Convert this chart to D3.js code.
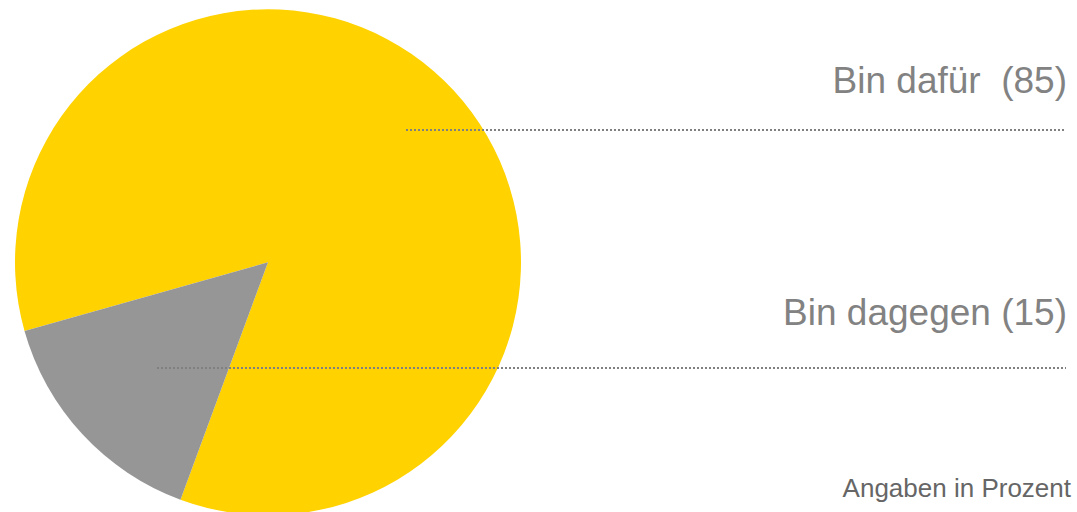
<!DOCTYPE html>
<html><head><meta charset="utf-8">
<script src="https://cdn.jsdelivr.net/npm/d3@7"></script>
<style>html,body{margin:0;padding:0;background:#fff;}svg{display:block;}</style>
</head><body>
<script>
const categories = ["Bin dafür", "Bin dagegen"];
const values = [85, 15];
const labels = ["Bin dafür  (85)", "Bin dagegen (15)"];
const colors = ["#FFD200", "#969696"];
const note = "Angaben in Prozent";

const W = 1077, H = 512;
const cx = 268, cy = 262.3, R = 253;
const startDeg = -105.76;
const labelLineY = [130, 368];
const labelLineX0 = [406, 157];
const labelBaseY = [93, 325];
const FONT = "'Liberation Sans', Arial, Helvetica, sans-serif";

const svg = d3.select("body").append("svg").attr("width", W).attr("height", H);
const pie = d3.pie().sort(null).value(d => d)
  .startAngle(startDeg * Math.PI / 180)
  .endAngle(startDeg * Math.PI / 180 + 2 * Math.PI);
const arcs = pie(values);
const arc = d3.arc().innerRadius(0).outerRadius(R);
const g = svg.append("g").attr("transform", `translate(${cx},${cy})`);
g.selectAll("path").data(arcs).join("path")
  .attr("d", arc).attr("fill", (d, i) => colors[i]);

arcs.forEach((a, i) => {
  svg.append("line")
    .attr("x1", labelLineX0[i]).attr("x2", 1066)
    .attr("y1", labelLineY[i]).attr("y2", labelLineY[i])
    .attr("stroke", "#808080").attr("stroke-width", 2)
    .attr("shape-rendering", "crispEdges")
    .attr("stroke-dasharray", "2,2");
  svg.append("text")
    .attr("x", 1067).attr("y", labelBaseY[i])
    .attr("text-anchor", "end")
    .style("font-family", FONT)
    .attr("font-size", 37).attr("fill", "#828282")
    .style("white-space", "pre")
    .text(labels[i]);
});

svg.append("text")
  .attr("x", 1071).attr("y", 497)
  .attr("text-anchor", "end")
  .style("font-family", FONT)
  .attr("font-size", 26).attr("fill", "#666666")
  .text(note);
</script>
</body></html>
